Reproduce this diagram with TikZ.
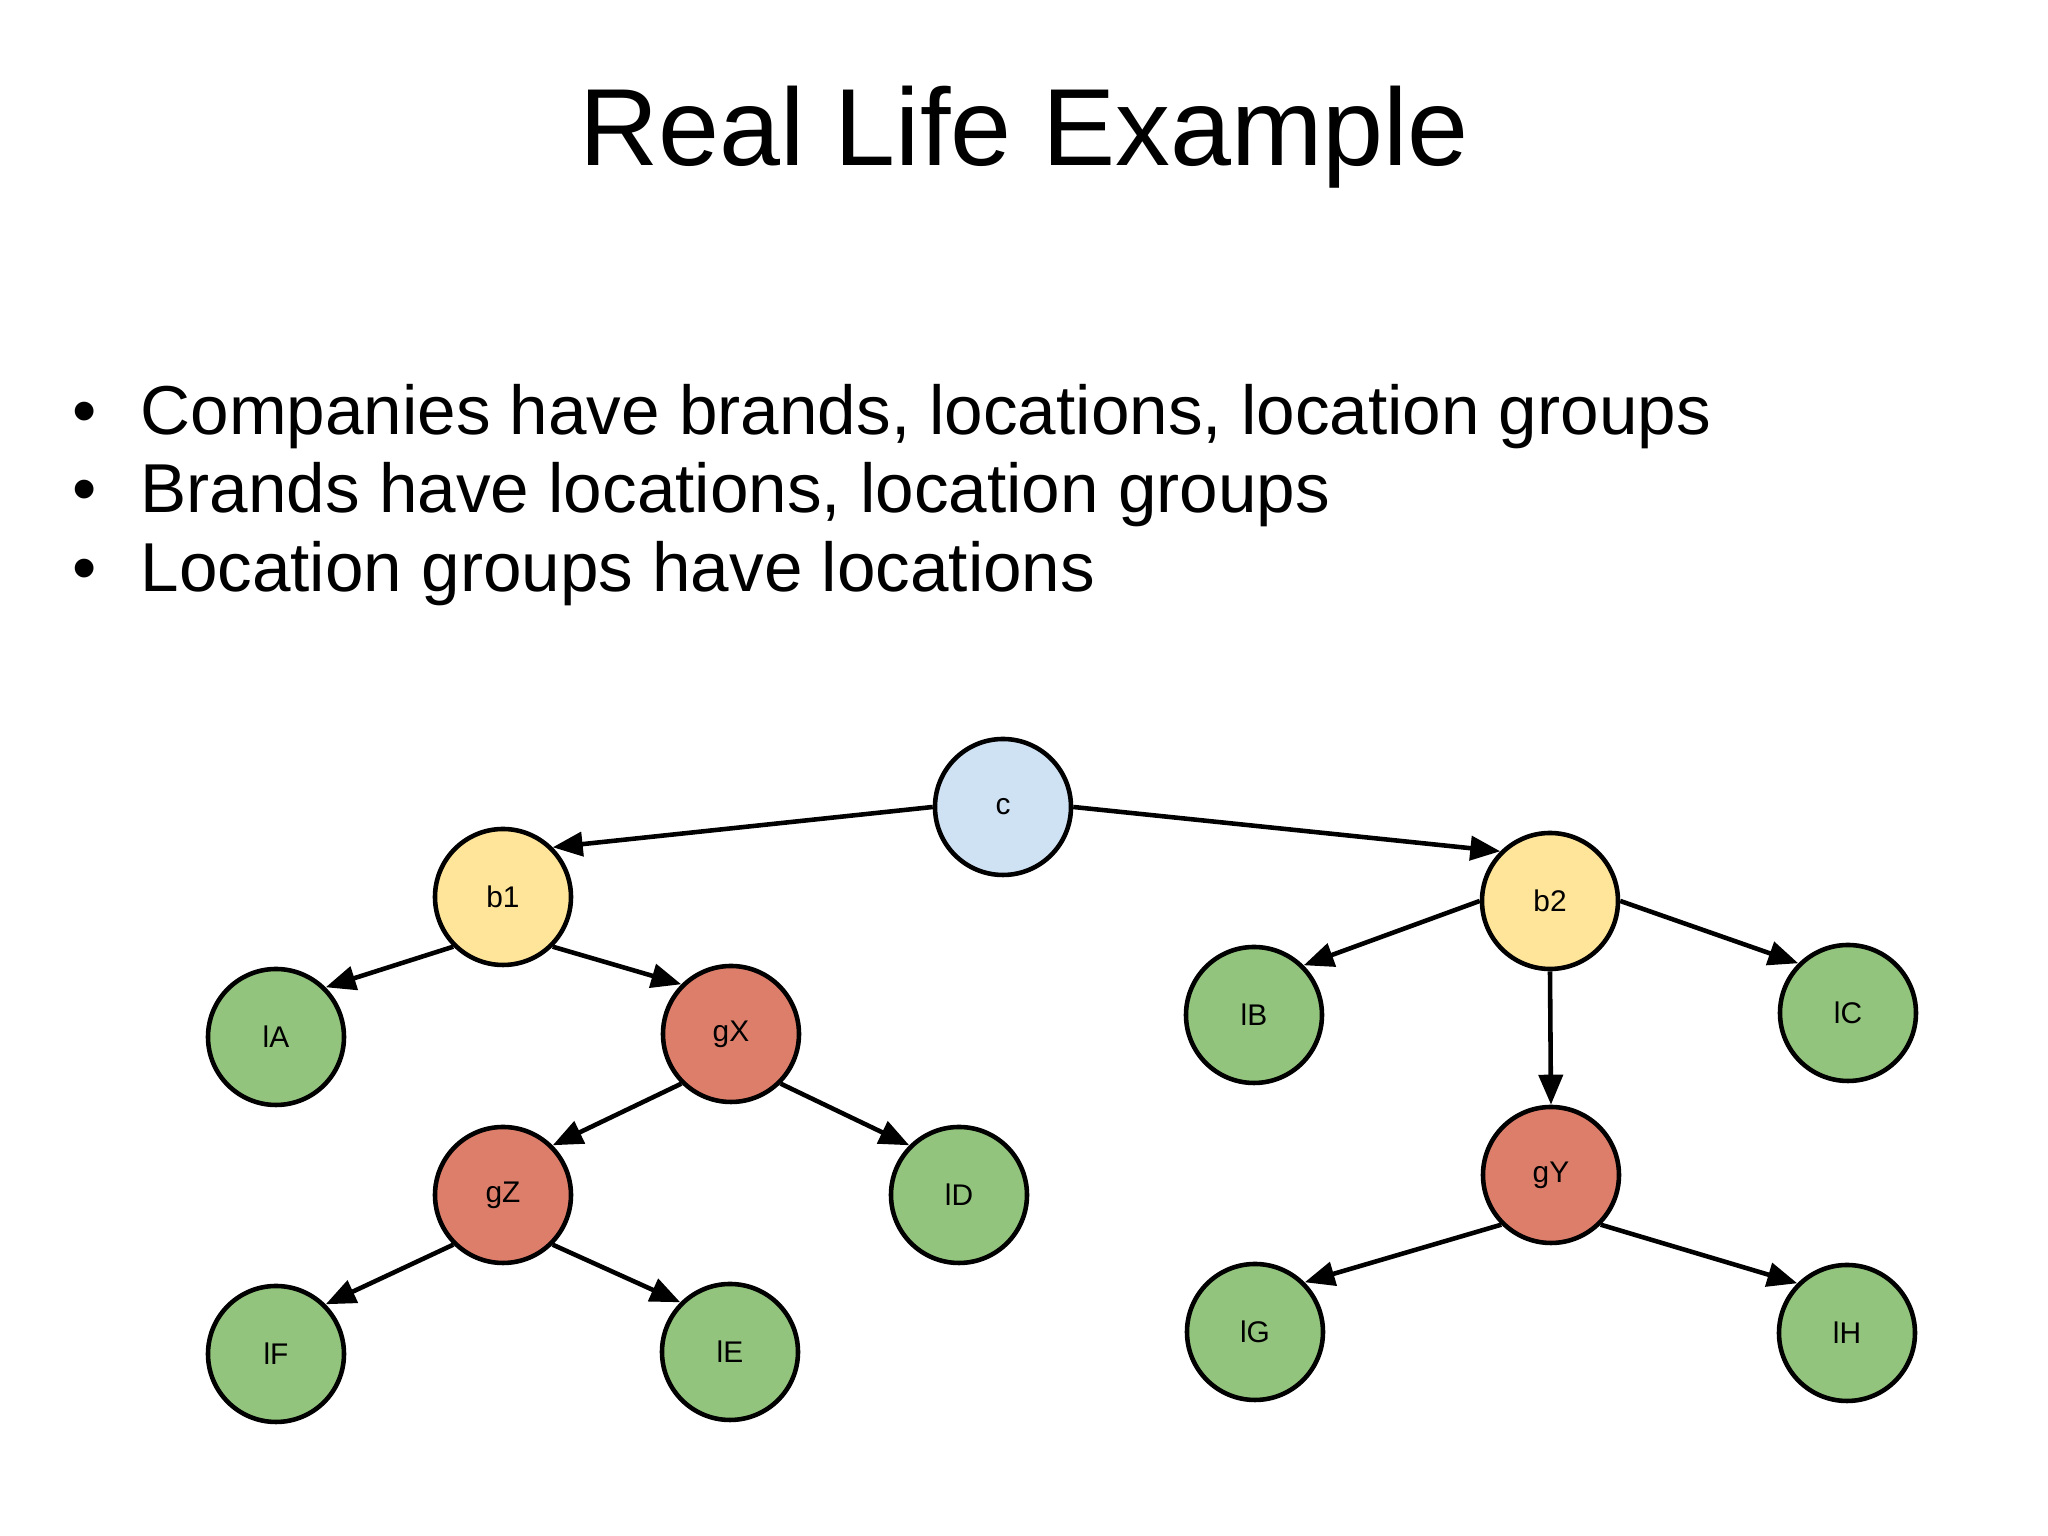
\documentclass[tikz,border=0pt]{standalone}
\usepackage{fontspec}
\setmainfont{Liberation Sans}
\usetikzlibrary{arrows.meta}

\definecolor{compblue}{HTML}{CFE2F3}
\definecolor{brandyellow}{HTML}{FFE599}
\definecolor{grpred}{HTML}{DD7E6B}
\definecolor{locgreen}{HTML}{93C47D}

\begin{document}
\begin{tikzpicture}[
  every node/.style={font=\fontsize{8.5}{10}\selectfont},
  ent/.style={draw, circle, line width=1.3pt, minimum size=1.36cm, inner sep=0pt},
  company/.style={ent, fill=compblue},
  brand/.style={ent, fill=brandyellow},
  grp/.style={ent, fill=grpred},
  loc/.style={ent, fill=locgreen},
  link/.style={-{Triangle[length=0.30cm, width=0.24cm]}, line width=1.3pt},
  bullet/.style={anchor=base west, font=\fontsize{19.7}{24}\selectfont}
]
\useasboundingbox (0,0) rectangle (20.48,15.36);

% title and bullets
\node[anchor=base, font=\fontsize{31.2}{37}\selectfont] (title) at (10.24,13.70) {Real Life Example};
\node[bullet] (p1) at (0.60,11.01) {\textbullet\hspace{0.44cm}Companies have brands, locations, location groups};
\node[bullet] (p2) at (0.60,10.23) {\textbullet\hspace{0.44cm}Brands have locations, location groups};
\node[bullet] (p3) at (0.60,9.44) {\textbullet\hspace{0.44cm}Location groups have locations};

% tree
\node[company] (c) at (10.03,7.29) {c};
\node[brand] (b1) at (5.03,6.39) {b1};
\node[brand] (b2) at (15.50,6.35) {b2};
\node[loc] (lA) at (2.76,4.99) {lA};
\node[grp] (gX) at (7.31,5.02) {gX};
\node[loc] (lB) at (12.54,5.21) {lB};
\node[loc] (lC) at (18.48,5.23) {lC};
\node[grp] (gZ) at (5.03,3.41) {gZ};
\node[loc] (lD) at (9.59,3.41) {lD};
\node[grp] (gY) at (15.51,3.61) {gY};
\node[loc] (lF) at (2.76,1.82) {lF};
\node[loc] (lE) at (7.30,1.84) {lE};
\node[loc] (lG) at (12.55,2.04) {lG};
\node[loc] (lH) at (18.47,2.03) {lH};

\draw[link] (c.west) -- (b1.north east);
\draw[link] (c.east) -- (b2.north west);
\draw[link] (b1.south west) -- (lA.north east);
\draw[link] (b1.south east) -- (gX.north west);
\draw[link] (gX.south west) -- (gZ.north east);
\draw[link] (gX.south east) -- (lD.north west);
\draw[link] (gZ.south west) -- (lF.north east);
\draw[link] (gZ.south east) -- (lE.north west);
\draw[link] (b2.west) -- (lB.north east);
\draw[link] (b2.south) -- (gY.north);
\draw[link] (b2.east) -- (lC.north west);
\draw[link] (gY.south west) -- (lG.north east);
\draw[link] (gY.south east) -- (lH.north west);
\end{tikzpicture}
\end{document}
